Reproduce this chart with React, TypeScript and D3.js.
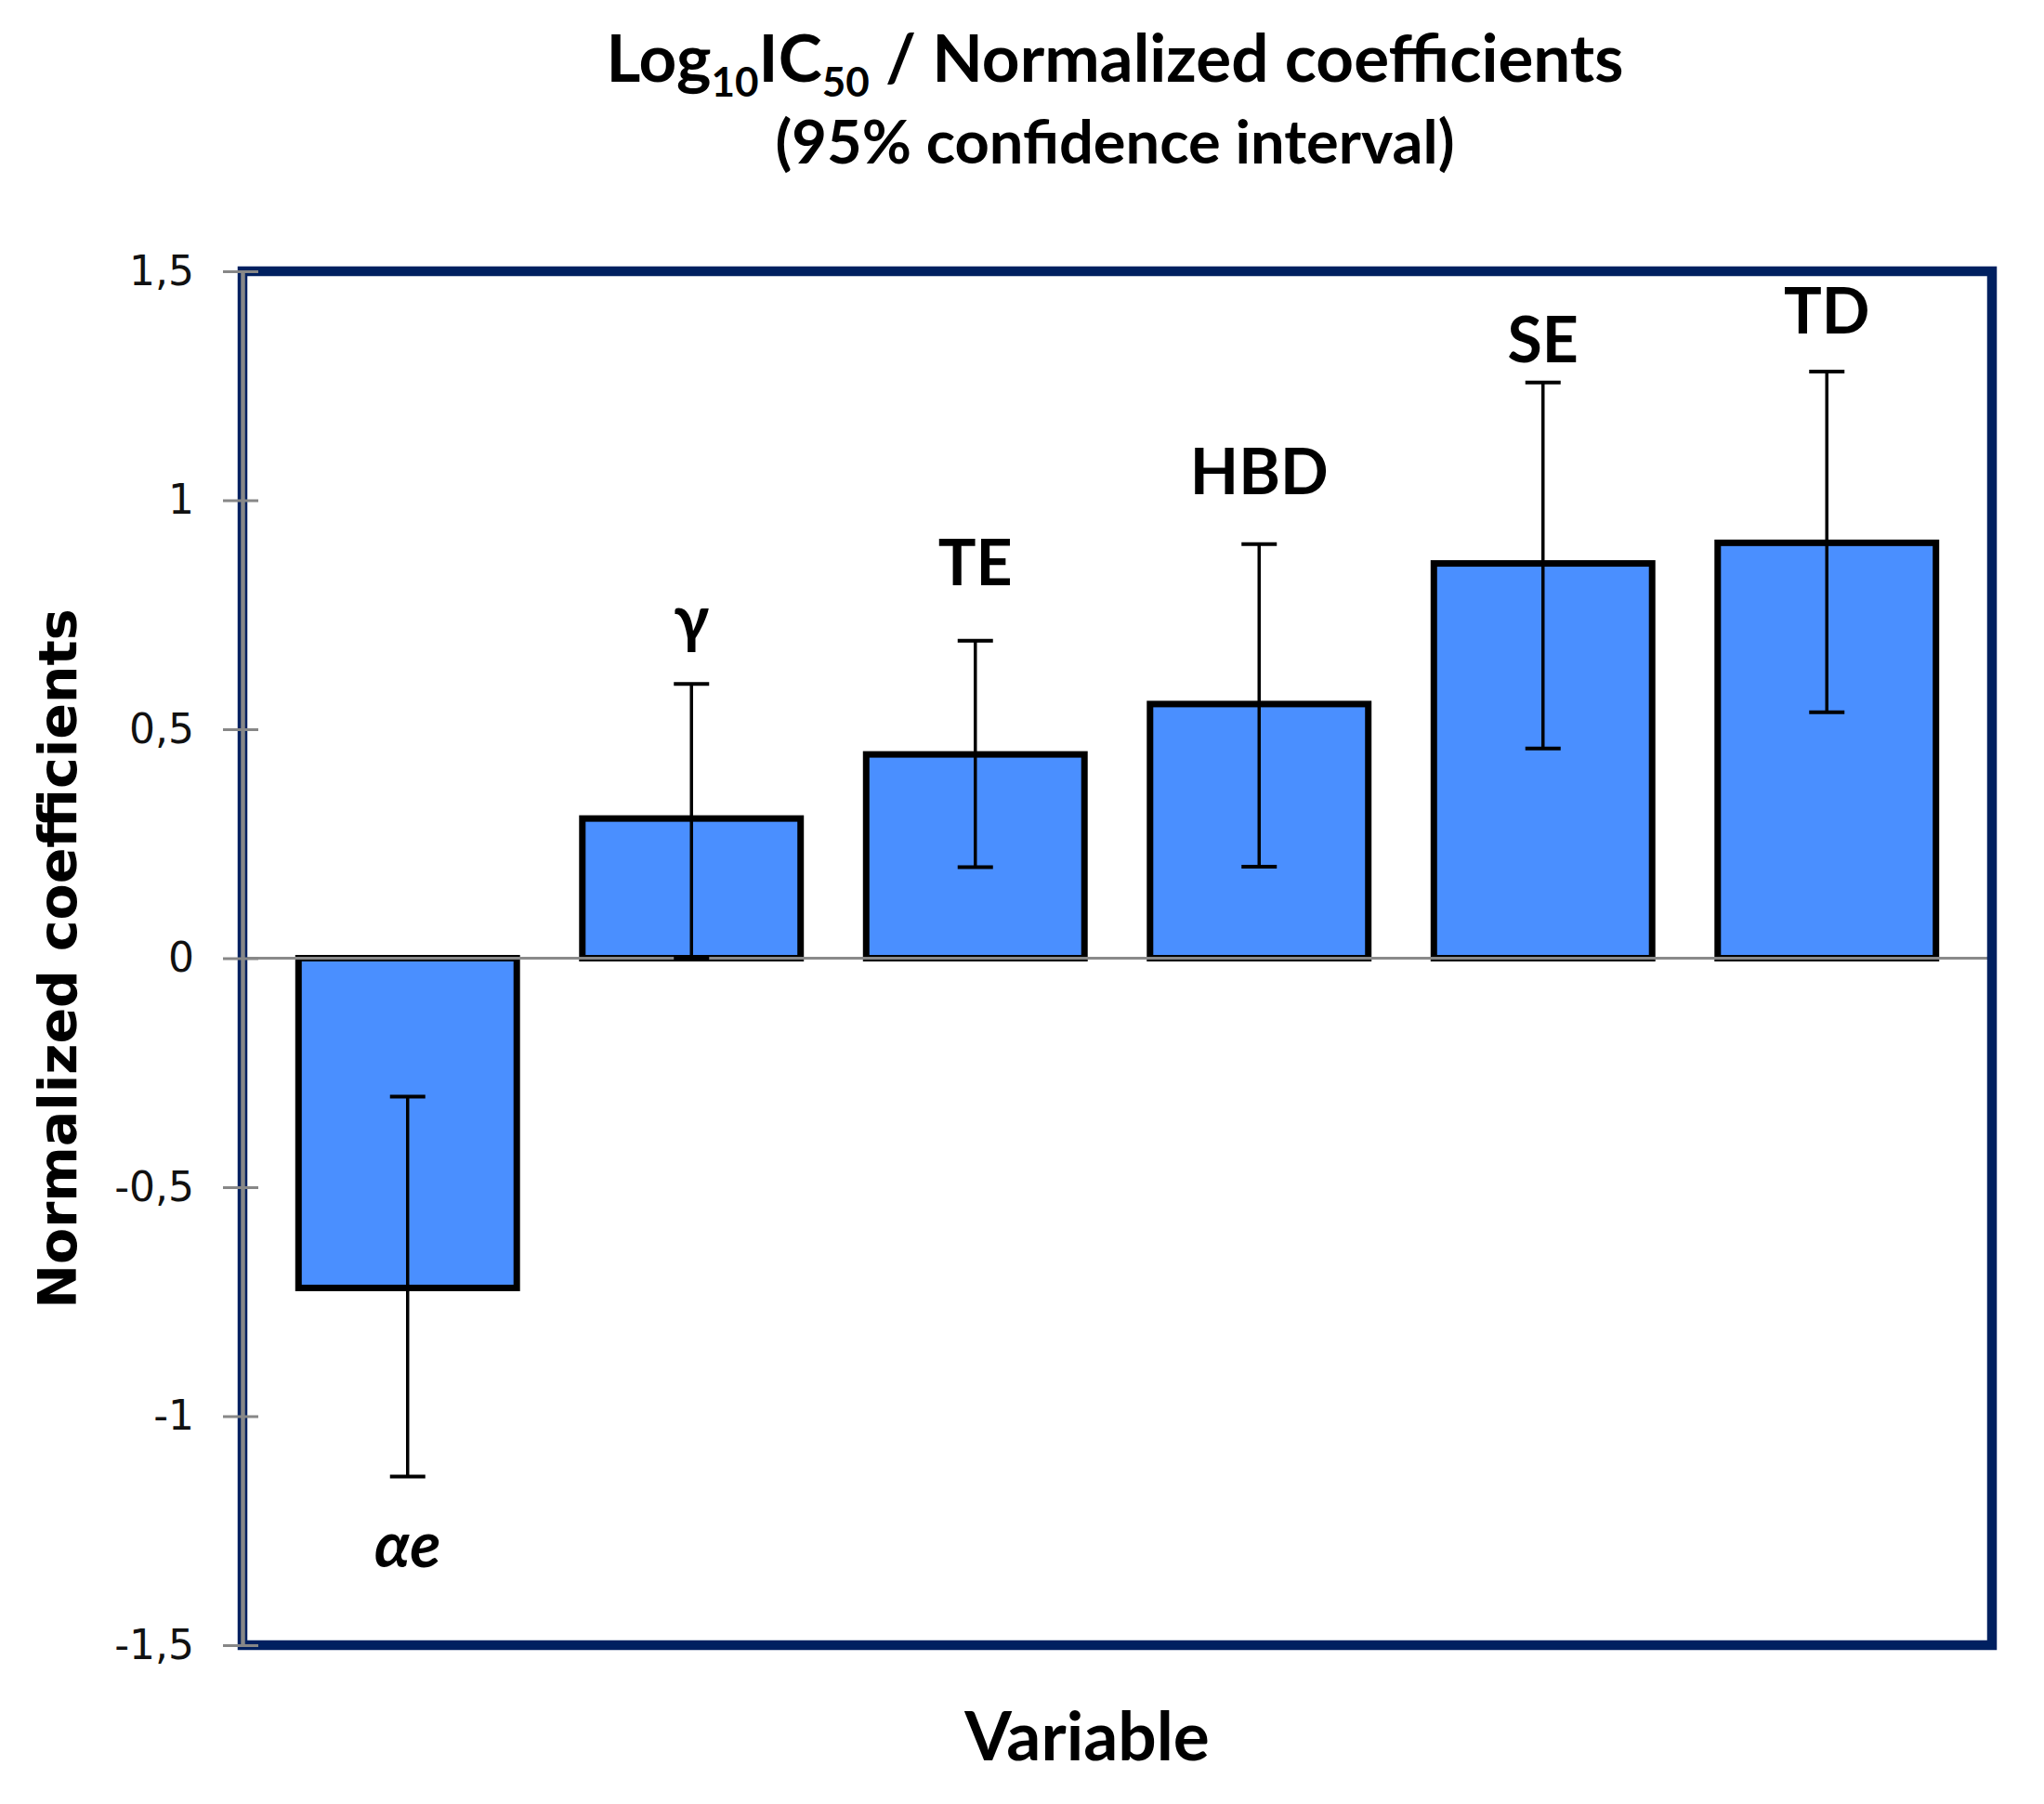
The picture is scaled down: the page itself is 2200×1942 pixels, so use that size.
import { useEffect, useRef } from "react";
import * as d3 from "d3";

// values
const categories = ["αe", "γ", "TE", "HBD", "SE", "TD"];
const coefficients = [-0.72, 0.305, 0.445, 0.555, 0.862, 0.907];
const ciLower = [-1.132, 0.0, 0.199, 0.2, 0.458, 0.537];
const ciUpper = [-0.302, 0.599, 0.693, 0.904, 1.257, 1.281];
// where each variable name sits (data units, baseline)
const labelAt = [-1.33, 0.693, 0.815, 1.013, 1.302, 1.364];
const yTicks = [-1.5, -1, -0.5, 0, 0.5, 1, 1.5];

const W = 2200;
const H = 1942;
const plot = { left: 261, right: 2144, top: 292, bottom: 1771 };
const labelFont = "Lato, 'Open Sans', 'Noto Sans', sans-serif";

export default function App() {
  const svgRef = useRef<SVGSVGElement | null>(null);

  useEffect(() => {
    if (!svgRef.current) return;
    const svg = d3.select(svgRef.current);
    svg.selectAll("*").remove();

    const rows = categories.map((name, i) => ({
      name,
      value: coefficients[i],
      lo: ciLower[i],
      hi: ciUpper[i],
      at: labelAt[i],
    }));

    const x = d3
      .scaleBand()
      .domain(categories)
      .range([plot.left + 25, plot.right - 25])
      .paddingInner(0.231)
      .paddingOuter(0.1155);
    const y = d3.scaleLinear().domain([-1.5, 1.5]).range([plot.bottom, plot.top]);

    svg.append("rect").attr("width", W).attr("height", H).attr("fill", "#fff");

    // title
    const title = svg
      .append("text")
      .attr("x", 1200)
      .attr("y", 88)
      .attr("text-anchor", "middle")
      .attr("font-family", labelFont)
      .attr("font-weight", 700)
      .attr("font-size", 71)
      .attr("fill", "#000");
    title.append("tspan").text("Log");
    title.append("tspan").attr("font-size", 44).attr("dy", 16).text("10");
    title.append("tspan").attr("dy", -16).text("IC");
    title.append("tspan").attr("font-size", 44).attr("dy", 16).text("50");
    title.append("tspan").attr("dy", -16).text(" / Normalized coefficients");

    svg
      .append("text")
      .attr("x", 1200)
      .attr("y", 176)
      .attr("text-anchor", "middle")
      .attr("font-family", labelFont)
      .attr("font-weight", 700)
      .attr("font-size", 65)
      .text("(95% confidence interval)");

    // bars
    svg
      .append("g")
      .selectAll("rect")
      .data(rows)
      .join("rect")
      .attr("x", (d) => x(d.name) ?? 0)
      .attr("width", x.bandwidth())
      .attr("y", (d) => y(Math.max(d.value, 0)))
      .attr("height", (d) => Math.abs(y(d.value) - y(0)))
      .attr("fill", "#4a8fff")
      .attr("stroke", "#000")
      .attr("stroke-width", 7);

    // zero line
    svg
      .append("line")
      .attr("x1", plot.left)
      .attr("x2", plot.right)
      .attr("y1", y(0))
      .attr("y2", y(0))
      .attr("stroke", "#8a8a8a")
      .attr("stroke-width", 3);

    // error bars
    const err = svg
      .append("g")
      .attr("stroke", "#000")
      .selectAll("g")
      .data(rows)
      .join("g")
      .attr("transform", (d) => `translate(${(x(d.name) ?? 0) + x.bandwidth() / 2},0)`);
    err
      .append("line")
      .attr("y1", (d) => y(d.lo))
      .attr("y2", (d) => y(d.hi))
      .attr("stroke-width", 3.5);
    err
      .selectAll("line.cap")
      .data((d) => [d.lo, d.hi])
      .join("line")
      .attr("class", "cap")
      .attr("x1", -19)
      .attr("x2", 19)
      .attr("y1", (v) => y(v))
      .attr("y2", (v) => y(v))
      .attr("stroke-width", 4);

    // variable names
    svg
      .append("g")
      .selectAll("text")
      .data(rows)
      .join("text")
      .attr("x", (d) => (x(d.name) ?? 0) + x.bandwidth() / 2)
      .attr("y", (d) => y(d.at))
      .attr("text-anchor", "middle")
      .attr("font-family", labelFont)
      .attr("font-weight", 700)
      .attr("font-style", (d) => (d.value < 0 ? "italic" : "normal"))
      .attr("font-size", 68)
      .attr("fill", "#000")
      .text((d) => d.name);

    // plot frame
    svg
      .append("rect")
      .attr("x", plot.left)
      .attr("y", plot.top)
      .attr("width", plot.right - plot.left)
      .attr("height", plot.bottom - plot.top)
      .attr("fill", "none")
      .attr("stroke", "#002060")
      .attr("stroke-width", 10.5);

    // y axis
    svg
      .append("g")
      .attr("transform", `translate(${plot.left},0)`)
      .call(
        d3
          .axisLeft(y)
          .tickValues(yTicks)
          .tickSize(21)
          .tickPadding(31)
          .tickSizeOuter(0)
          .tickFormat((d) => String(d).replace(".", ",")),
      )
      .call((g) => g.select(".domain").attr("stroke", "#878787").attr("stroke-width", 4.5))
      .call((g) =>
        g.selectAll(".tick line").attr("x1", 17).attr("x2", -21).attr("stroke", "#878787").attr("stroke-width", 3),
      )
      .call((g) =>
        g
          .selectAll(".tick text")
          .attr("font-family", "'DejaVu Sans', Verdana, sans-serif")
          .attr("font-size", 44)
          .attr("fill", "#111"),
      );

    // axis titles
    svg
      .append("text")
      .attr("transform", `translate(82,1032) rotate(-90)`)
      .attr("text-anchor", "middle")
      .attr("font-family", "'DejaVu Sans', Verdana, sans-serif")
      .attr("font-weight", 700)
      .attr("font-size", 57)
      .attr("fill", "#000")
      .text("Normalized coefficients");

    svg
      .append("text")
      .attr("x", 1170)
      .attr("y", 1895)
      .attr("text-anchor", "middle")
      .attr("font-family", labelFont)
      .attr("font-weight", 700)
      .attr("font-size", 73)
      .attr("fill", "#000")
      .text("Variable");
  }, []);

  return (
    <svg
      ref={svgRef}
      width={W}
      height={H}
      style={{ position: "absolute", left: 0, top: 0, display: "block" }}
    />
  );
}
